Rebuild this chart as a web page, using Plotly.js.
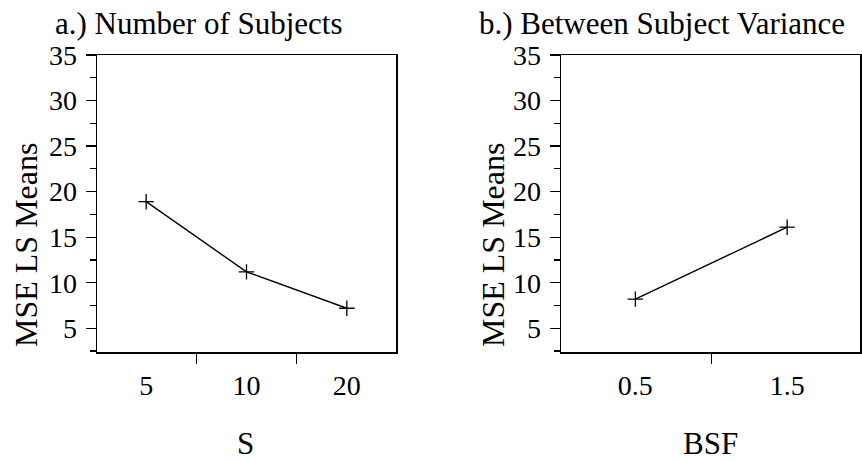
<!DOCTYPE html>
<html>
<head>
<meta charset="utf-8">
<script src="https://cdn.plot.ly/plotly-3.0.1.min.js"></script>
<style>html,body{margin:0;padding:0;background:#fff;}#chart{width:862px;height:462px;}</style>
</head>
<body>
<div id="chart"></div>
<script>
// Panel a: Number of Subjects
const subjectCategories = ["5", "10", "20"];
const subjectMSE = [18.9, 11.2, 7.2];
// Panel b: Between Subject Variance
const bsfCategories = ["0.5", "1.5"];
const bsfMSE = [8.2, 16.1];
const yTickVals = [5, 10, 15, 20, 25, 30, 35];
const titles = {
  a: "a.) Number of Subjects",
  b: "b.) Between Subject Variance",
  xa: "S",
  xb: "BSF",
  y: "MSE LS Means"
};

const W = 862, H = 462;
const px = v => v / W, py = v => 1 - v / H;
const FONT = "Liberation Serif, Times New Roman, serif";

const lineStyle = {color: "#000", width: 1.4};
const markerStyle = {symbol: "cross-thin-open", size: 11, color: "#000", line: {color: "#000", width: 1.3}};

const traces = [
  {x: subjectCategories, y: subjectMSE, type: "scatter", mode: "lines+markers",
   line: lineStyle, marker: markerStyle, xaxis: "x", yaxis: "y", hoverinfo: "none"},
  {x: bsfCategories, y: bsfMSE, type: "scatter", mode: "lines+markers",
   line: lineStyle, marker: markerStyle, xaxis: "x2", yaxis: "y2", hoverinfo: "none"}
];

const xBase = {
  type: "category", showline: true, mirror: true, linecolor: "#000", linewidth: 1.5,
  ticks: "outside", tickson: "boundaries", ticklen: 10, tickwidth: 1.5, tickcolor: "#000",
  showgrid: false, zeroline: false, ticklabelstandoff: 8,
  tickfont: {family: FONT, size: 28, color: "#000"}, fixedrange: true
};
const yBase = {
  range: [2.4, 35], tickvals: yTickVals, showline: true, mirror: true, linecolor: "#000", linewidth: 1.5,
  ticks: "outside", ticklen: 10, tickwidth: 1.3, tickcolor: "#000",
  minor: {dtick: 2.5, ticks: "outside", ticklen: 6, tickwidth: 1.2, tickcolor: "#000"},
  showgrid: false, zeroline: false, ticklabelstandoff: 3,
  tickfont: {family: FONT, size: 28, color: "#000"}, fixedrange: true
};

const layout = {
  width: W, height: H,
  margin: {l: 0, r: 0, t: 0, b: 0},
  paper_bgcolor: "#fff", plot_bgcolor: "#fff",
  showlegend: false,
  xaxis: Object.assign({}, xBase, {domain: [px(97), px(396)], range: [-0.49, 2.49], anchor: "y"}),
  yaxis: Object.assign({}, yBase, {domain: [py(352), py(55)], anchor: "x"}),
  xaxis2: Object.assign({}, xBase, {domain: [px(561), px(860)], range: [-0.49, 1.48], anchor: "y2"}),
  yaxis2: Object.assign({}, yBase, {domain: [py(352), py(55)], anchor: "x2"}),
  annotations: [
    {text: titles.a, xref: "paper", yref: "paper", x: px(54), y: py(23), xanchor: "left", yanchor: "middle",
     showarrow: false, borderpad: 0, font: {family: FONT, size: 31, color: "#000"}},
    {text: titles.b, xref: "paper", yref: "paper", x: px(478), y: py(23), xanchor: "left", yanchor: "middle",
     showarrow: false, borderpad: 0, font: {family: FONT, size: 31, color: "#000"}},
    {text: titles.xa, xref: "paper", yref: "paper", x: px(246), y: 0, xanchor: "center", yanchor: "bottom",
     showarrow: false, borderpad: 0, font: {family: FONT, size: 31, color: "#000"}},
    {text: titles.xb, xref: "paper", yref: "paper", x: px(710), y: 0, xanchor: "center", yanchor: "bottom",
     showarrow: false, borderpad: 0, font: {family: FONT, size: 31, color: "#000"}},
    {text: titles.y, xref: "paper", yref: "paper", x: px(26), y: py(245), xanchor: "center", yanchor: "middle",
     textangle: -90, showarrow: false, font: {family: FONT, size: 32, color: "#000"}},
    {text: titles.y, xref: "paper", yref: "paper", x: px(493), y: py(245), xanchor: "center", yanchor: "middle",
     textangle: -90, showarrow: false, font: {family: FONT, size: 32, color: "#000"}}
  ]
};

Plotly.newPlot("chart", traces, layout, {staticPlot: true, displayModeBar: false});
</script>
</body>
</html>
